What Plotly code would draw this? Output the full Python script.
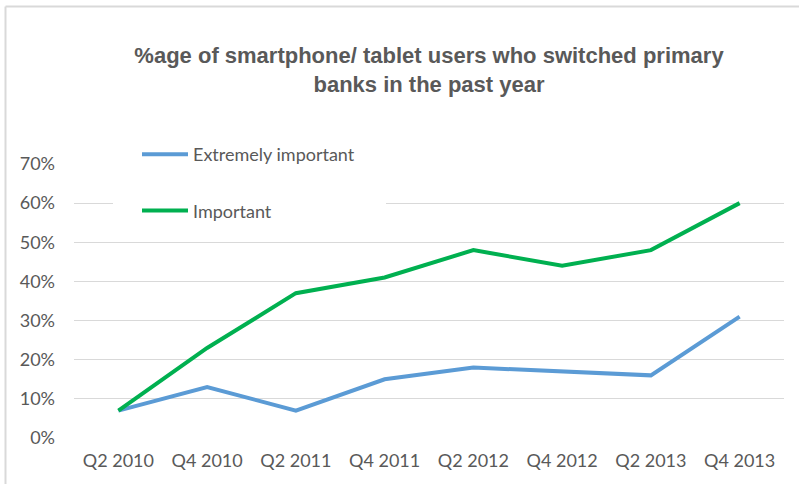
import plotly.graph_objects as go

quarters = ["Q2 2010", "Q4 2010", "Q2 2011", "Q4 2011",
            "Q2 2012", "Q4 2012", "Q2 2013", "Q4 2013"]
extremely_important = [0.07, 0.13, 0.07, 0.15, 0.18, 0.17, 0.16, 0.31]
important = [0.07, 0.23, 0.37, 0.41, 0.48, 0.44, 0.48, 0.60]
y_ticks = [0, 0.1, 0.2, 0.3, 0.4, 0.5, 0.6, 0.7]

W, H = 799, 484
L, R, T, B = 74, 15, 164, 46
pw, ph = W - L - R, H - T - B


def px_x(x):
    return (x - L) / pw


def px_y(y):
    return (H - B - y) / ph


gray = "#595959"
label_font = dict(family="Lato, Calibri, sans-serif", size=18, color=gray)

fig = go.Figure()
fig.add_trace(go.Scatter(
    x=quarters, y=extremely_important, mode="lines", name="Extremely important",
    line=dict(color="#5B9BD5", width=4), legendgroup="a"))
fig.add_trace(go.Scatter(
    x=quarters, y=important, mode="lines", name="Important",
    line=dict(color="#00B050", width=4), legendgroup="b"))

fig.update_layout(
    width=W, height=H,
    margin=dict(l=L, r=R, t=T, b=B),
    paper_bgcolor="white", plot_bgcolor="white",
    title=dict(
        text="%age of smartphone/ tablet users who switched primary<br>banks in the past year",
        x=0.5, xref="paper", xanchor="center",
        y=1 - 63 / H, yref="container", yanchor="top",
        font=dict(family="Liberation Sans, Arial, sans-serif",
                  size=22, color=gray, weight="bold"),
    ),
    xaxis=dict(
        type="category", range=[-0.5, 7.5], showgrid=False, zeroline=False,
        showline=False, ticks="", tickfont=label_font, ticklabelstandoff=10,
    ),
    yaxis=dict(
        range=[0, 0.7], tickvals=y_ticks, tickformat=".0%",
        showgrid=True, gridcolor="#d9d9d9", gridwidth=1, zeroline=False,
        showline=False, ticks="", tickfont=label_font, ticklabelstandoff=18,
    ),
    legend=dict(
        x=px_x(137), y=px_y(136), xanchor="left", yanchor="top",
        bgcolor="white", borderwidth=0, font=label_font,
        traceorder="grouped", tracegroupgap=30,
        itemwidth=46,
    ),
    shapes=[
        # white panel behind the legend, hiding the gridlines there
        dict(type="rect", xref="paper", yref="paper", layer="above",
             x0=px_x(113), x1=px_x(386), y0=px_y(225), y1=px_y(140),
             fillcolor="white", line=dict(width=0)),
        dict(type="line", xref="paper", yref="paper",
             x0=px_x(5.5), x1=px_x(W + 5), y0=px_y(6.5), y1=px_y(6.5),
             line=dict(color="#d9d9d9", width=2)),
        dict(type="line", xref="paper", yref="paper",
             x0=px_x(5.5), x1=px_x(5.5), y0=px_y(6.5), y1=px_y(H + 5),
             line=dict(color="#d9d9d9", width=2)),
    ],
)

fig.write_html("out.html")
